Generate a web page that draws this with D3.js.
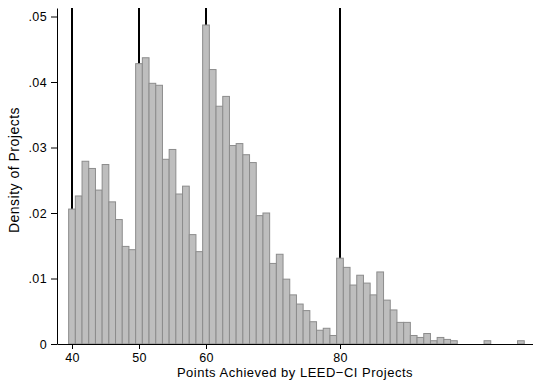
<!DOCTYPE html>
<html>
<head>
<meta charset="utf-8">
<script src="https://cdn.jsdelivr.net/npm/d3@7"></script>
<style>
  body { margin: 0; background: #fff; }
  svg { font-family: "Liberation Sans", Arial, sans-serif; }
  .axis text { font-size: 12.5px; fill: #000; letter-spacing: 0.4px; }
  .axis path, .axis line { stroke: #000; }
  .label { font-size: 13px; fill: #000; letter-spacing: 0.5px; }
  .ylabel { font-size: 14px; }
</style>
</head>
<body>
<svg id="chart" width="533" height="385"></svg>
<script>
// histogram of LEED-CI points, one bar per point
var points  = [40,41,42,43,44,45,46,47,48,49,
               50,51,52,53,54,55,56,57,58,59,
               60,61,62,63,64,65,66,67,68,69,
               70,71,72,73,74,75,76,77,78,79,
               80,81,82,83,84,85,86,87,88,89,
               90,91,92,93,94,95,96,97,102,107];
var density = [.0206,.0226,.0279,.0268,.0235,.0274,.0217,.0190,.0149,.0144,
               .0428,.0437,.0398,.0395,.0282,.0297,.0229,.0241,.0167,.0141,
               .0487,.0419,.0363,.0378,.0303,.0306,.0289,.0277,.0196,.0200,
               .0123,.0137,.0099,.0075,.0061,.0051,.0034,.0021,.0024,.0013,
               .0131,.0117,.0090,.0105,.0093,.0075,.0110,.0067,.0052,.0033,
               .0033,.0013,.0010,.0016,.0005,.0010,.0007,.0005,.0005,.0005];
var xTicks  = [40, 50, 60, 80];
var yTicks  = [0, .01, .02, .03, .04, .05];
var xLines  = [40, 50, 60, 80];

var svg = d3.select("#chart");
var pLeft = 57, pRight = 533, pTop = 8, pBottom = 344;

var x = d3.scaleLinear().domain([40, 80]).range([72, 340]);
x.domain([x.invert(pLeft), x.invert(pRight)]).range([pLeft, pRight]);
var y = d3.scaleLinear().domain([0, .05]).range([pBottom, 16.5]);
y.domain([0, y.invert(pTop)]).range([pBottom, pTop]);

// reference lines sit behind the bars
svg.append("g").selectAll("line")
    .data(xLines).enter().append("line")
    .attr("x1", function(d) { return x(d); })
    .attr("x2", function(d) { return x(d); })
    .attr("y1", pTop).attr("y2", pBottom)
    .attr("stroke", "#000").attr("stroke-width", 2);

var bw = x(1) - x(0);
svg.append("g").selectAll("rect")
    .data(points).enter().append("rect")
    .attr("x", function(d) { return x(d - 0.5); })
    .attr("width", bw)
    .attr("y", function(d, i) { return y(density[i]); })
    .attr("height", function(d, i) { return pBottom - y(density[i]); })
    .attr("fill", "#bebebe")
    .attr("stroke", "#8c8c8c")
    .attr("stroke-width", 1);

svg.append("g").attr("class", "axis")
    .attr("transform", "translate(0," + pBottom + ")")
    .call(d3.axisBottom(x).tickValues(xTicks).tickSize(5).tickPadding(3).tickSizeOuter(0))
    .selectAll("text").attr("dy", "0.8em");

svg.append("g").attr("class", "axis")
    .attr("transform", "translate(" + pLeft + ",0)")
    .call(d3.axisLeft(y).tickValues(yTicks).tickSize(6).tickPadding(4).tickSizeOuter(0)
        .tickFormat(function(d) { return d === 0 ? "0" : d3.format(".2f")(d).replace(/^0/, ""); }));

svg.append("text").attr("class", "label")
    .attr("x", (pLeft + pRight) / 2).attr("y", 377)
    .attr("text-anchor", "middle")
    .text("Points Achieved by LEED\u2212CI Projects");

svg.append("text").attr("class", "label ylabel")
    .attr("transform", "translate(19,170) rotate(-90)")
    .attr("text-anchor", "middle")
    .text("Density of Projects");
</script>
</body>
</html>
